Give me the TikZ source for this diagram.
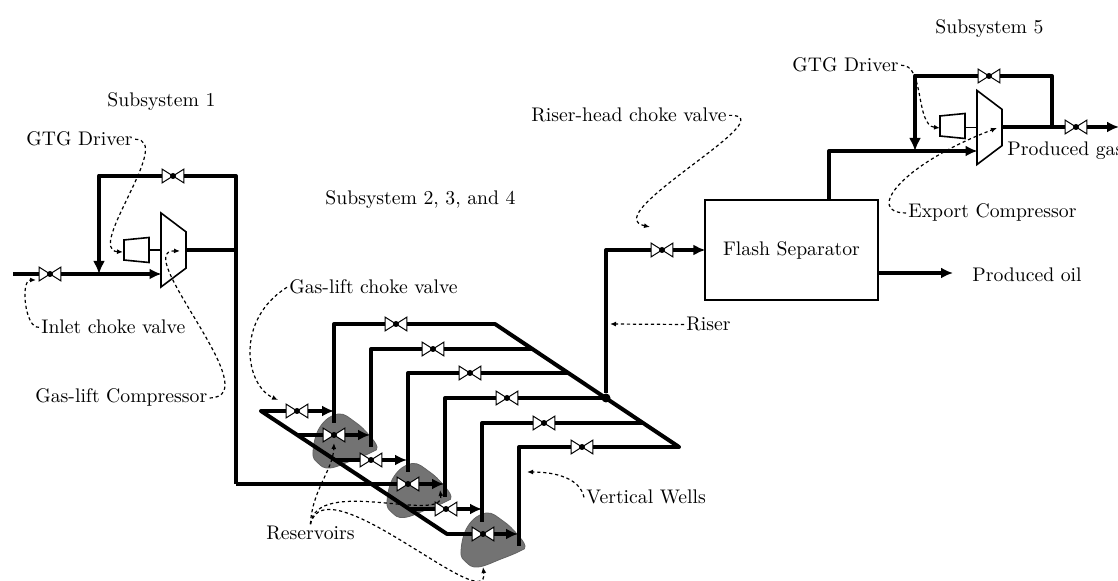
\documentclass[tikz,border=0pt]{standalone}
\usepackage{xcolor}
\usetikzlibrary{shapes.geometric,arrows.meta,positioning,calc}
\definecolor{resgray}{HTML}{737373}
\newcommand{\valve}[2]{
  \node[valve] (#1) at (#2) {};
  \draw[valveline] (#1.north west) -- (#1.south east) -- (#1.north east) -- (#1.south west) -- cycle;
  \fill (#1) circle (1.5pt);
}
\begin{document}
\begin{tikzpicture}[
  x=0.5pt,y=-0.5pt,
  font=\fontsize{9.85}{12}\selectfont,
  valve/.style={rectangle,inner sep=0pt,minimum width=10.5pt,minimum height=6.5pt},
  valveline/.style={draw=black,fill=white,line width=0.5pt,line join=miter},
  pipe/.style={line width=2pt,line join=round},
  feed/.style={pipe,-{Latex[length=6pt,width=5.5pt]},shorten >=-0.5pt},
  recycle/.style={line width=2.4pt,line join=round,-{Latex[length=6.5pt,width=6pt]}},
  comp/.style={trapezium,draw,line width=0.8pt,shape border rotate=270,trapezium stretches=true,
    minimum width=37pt,minimum height=12.5pt,trapezium angle=62.5,inner sep=0.5pt},
  driver/.style={trapezium,draw,line width=0.8pt,shape border rotate=90,trapezium stretches=true,
    minimum width=12.5pt,minimum height=12.5pt,trapezium angle=83,inner sep=0.5pt},
  shaft/.style={line width=0.8pt},
  lbl/.style={anchor=base west,inner sep=1pt},
  note/.style={line width=0.6pt,dash pattern=on 1.6pt off 1.4pt,-{Latex[length=3pt,width=2.5pt]}},
  reservoir/.style={draw=resgray!85!black,fill=resgray,line width=0.4pt}]
  \useasboundingbox (0,0) rectangle (1118,581);

  % reservoirs
  \foreach \dx/\dy in {0/0,74/49.5,148/99}{
    \filldraw[reservoir,shift={(\dx,\dy)}] plot[smooth cycle,tension=0.7] coordinates
      {(338,414) (355,422) (369,435) (377,447) (372,452) (353,460) (330,468) (318,463) (313,452) (320,427)};
  }

  % subsystem 1
  \coordinate (inlet) at (13,274);
  \valve{vin}{50,274}
  \node[comp] (compa) at (173.5,250) {};
  \node[driver] (gtga) at (136.5,250) {};
  \coordinate (compain) at (160.5,274);
  \coordinate (compaout) at (236,250);
  \coordinate (recatr) at (236,176);
  \coordinate (recatl) at (99,176);
  \coordinate (recatj) at (99,274);
  \coordinate (mainb) at (236,484);
  \valve{vreca}{173,176}
  \draw[pipe] (inlet) -- (vin);
  \draw[feed] (vin) -- (compain);
  \draw[shaft] (gtga.east |- compa) -- (compa.west |- compa);
  \draw[pipe] (compa.east |- compa) -- (compaout) -- (recatr) -- (vreca);
  \draw[pipe] (compaout) -- (mainb);
  \draw[recycle] (vreca) -- (recatl) -- (recatj);

  % wells
  \foreach \n/\xw/\ytop/\ylow/\xv/\xm in {1/334/324/423/396/495,2/371/349/447/433/532,3/408/373/472/470/568,
      4/445/398/497/507/606,5/482/423/522/544/643,6/519/447/546/582/679}{
    \valve{vw\n}{\xv,\ytop}
    \coordinate (wm\n) at (\xm,\ytop);
    \coordinate (wt\n) at (\xw,\ytop);
    \coordinate (wb\n) at (\xw,\ylow);
    \draw[pipe] (wm\n) -- (vw\n) -- (wt\n) -- (wb\n);
  }
  \draw[pipe,line cap=round] (wm1) -- (wm6);

  % gas-lift branches
  \foreach \n/\xs/\ys/\xv/\xe in {1/261/411/297/333,2/297/435/334/369,3/334/460/371/406,
      4/371/484/408/443,5/408/509/446/481,6/447/534/483/517}{
    \valve{vg\n}{\xv,\ys}
    \coordinate (gs\n) at (\xs,\ys);
    \coordinate (ge\n) at (\xe,\ys);
    \draw[pipe] (gs\n) -- (vg\n);
    \draw[feed] (vg\n) -- (ge\n);
  }
  \draw[pipe,line cap=round] (gs1) -- (gs6);
  \draw[pipe] (mainb) -- (gs4);

  % riser and separator
  \node[circle,fill=black,inner sep=0pt,minimum size=4.5pt] (jriser) at (606,398) {};
  \coordinate (risertop) at (606,250);
  \valve{vriser}{662,250}
  \node[draw,line width=0.6pt,minimum width=86.5pt,minimum height=50pt,inner sep=0pt] (sep) at (791.5,250) {Flash Separator};
  \draw[pipe] (jriser) -- (risertop) -- (vriser);
  \draw[feed] (vriser) -- (sep);
  \coordinate (oilout) at (953,273);
  \draw[feed,shorten >=0pt] (sep.east |- oilout) -- (oilout);

  % subsystem 5
  \node[comp] (compb) at (989.5,127.5) {};
  \node[driver] (gtgb) at (952.5,126) {};
  \coordinate (sepout) at (829,151);
  \coordinate (compbin) at (976.5,151);
  \coordinate (recbr) at (1052,127);
  \coordinate (recbt) at (1052,76);
  \coordinate (recbl) at (915,76);
  \coordinate (recbj) at (915,151);
  \coordinate (gasout) at (1118,127);
  \valve{vrecb}{989,76}
  \valve{vout}{1076,127}
  \draw[pipe] (sep.north -| sepout) -- (sepout) -- (recbj);
  \draw[feed] (recbj) -- (compbin);
  \draw[shaft] (gtgb.east |- compb) -- (compb.west |- compb);
  \draw[pipe] (compb.east |- recbr) -- (recbr) -- (vout);
  \draw[pipe] (recbr) -- (recbt) -- (vrecb);
  \draw[recycle] (vrecb) -- (recbl) -- (recbj);
  \draw[feed] (vout) -- (gasout);

  % labels
  \node[lbl] (suba) at (105,107) {Subsystem 1};
  \node[lbl] (subb) at (323,205) {Subsystem 2, 3, and 4};
  \node[lbl] (subc) at (933,34) {Subsystem 5};
  \node[lbl] (lgtga) at (24,146) {GTG Driver};
  \node[lbl] (linlet) at (39,334) {Inlet choke valve};
  \node[lbl] (lcomp) at (33,403) {Gas-lift Compressor};
  \node[lbl] (lchoke) at (287,294) {Gas-lift choke valve};
  \node[lbl] (lhead) at (529,122) {Riser-head choke valve};
  \node[lbl] (lriser) at (684,331) {Riser};
  \node[lbl] (lwells) at (584,504) {Vertical Wells};
  \node[lbl] (lres) at (264,540) {Reservoirs};
  \node[lbl] (lgtgb) at (790,72) {GTG Driver};
  \node[lbl] (lexport) at (906,218) {Export Compressor};
  \node[lbl] (lgas) at (1005,156) {Produced gas};
  \node[lbl] (loil) at (970,282) {Produced oil};

  % notes
  \coordinate (ngtga) at (123,252);
  \coordinate (ninlet) at (36,280);
  \coordinate (ncomp) at (180,251);
  \coordinate (nchoke) at (278,400);
  \coordinate (nhead) at (650,227);
  \coordinate (nriser) at (610,324);
  \coordinate (nwells) at (527,472);
  \coordinate (nresa) at (334,443);
  \coordinate (nresb) at (440,490);
  \coordinate (nresc) at (483,567);
  \coordinate (ngtgb) at (940,128);
  \coordinate (nexport) at (997,128);
  \draw[note] (lgtga.east) .. controls (175,139) and (85,250) .. (ngtga);
  \draw[note] (linlet.west) .. controls (25,329) and (20,280) .. (ninlet);
  \draw[note] (lcomp.east) .. controls (270,397) and (130,250) .. (ncomp);
  \draw[note] (lchoke.west) .. controls (235,320) and (245,385) .. (nchoke);
  \draw[note] (lhead.east) .. controls (790,114) and (595,215) .. (nhead);
  \draw[note] (lriser.west) -- (nriser);
  \draw[note] (lwells.west) .. controls (580,478) and (555,472) .. (nwells);
  \draw[note] (lres.north) .. controls (312,490) and (333,470) .. (nresa);
  \draw[note] (lres.north) .. controls (316,475) and (445,525) .. (nresb);
  \draw[note] (lres.north) .. controls (325,462) and (490,620) .. (nresc);
  \draw[note] (lgtgb.east) .. controls (925,64) and (915,125) .. (ngtgb);
  \draw[note] (lexport.west) .. controls (865,213) and (900,165) .. (nexport);
\end{tikzpicture}
\end{document}
